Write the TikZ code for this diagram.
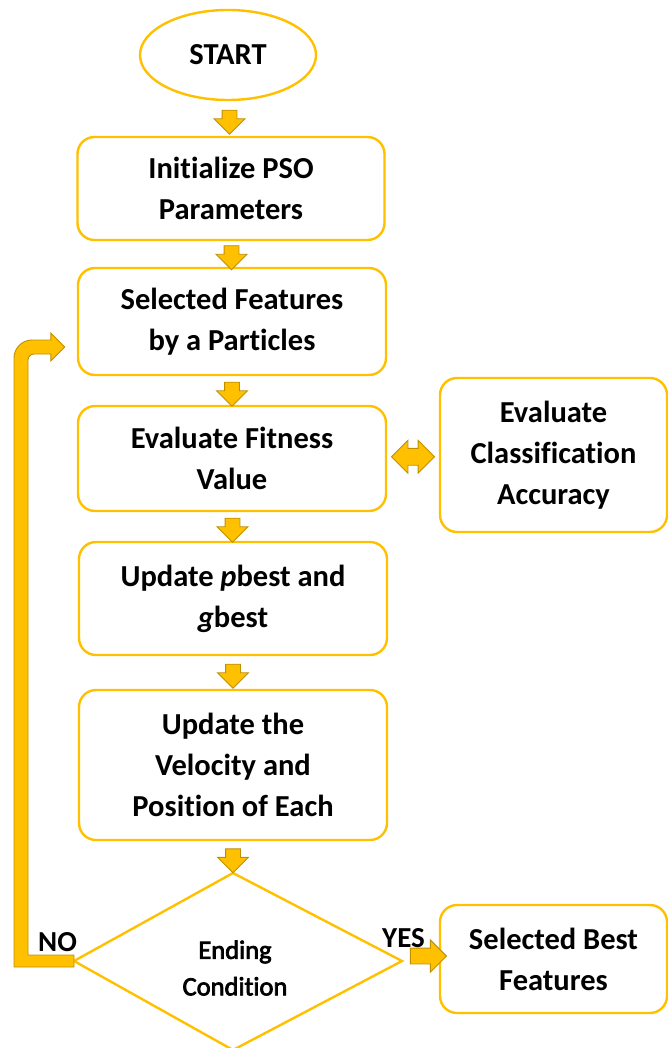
\documentclass[tikz,border=0pt]{standalone}
\usepackage{fontspec}
\setmainfont{Carlito}[Ligatures=NoCommon]
\newfontfamily\semicarlito{Carlito}[Ligatures=NoCommon, FakeBold=2.8]
\usetikzlibrary{shapes.geometric,shapes.arrows,calc}
\definecolor{gold}{HTML}{FFC000}
\definecolor{golddark}{HTML}{C08F00}
\tikzset{
  box/.style={draw=gold, line width=2.4pt, rounded corners=17pt, fill=white, align=center,
    font=\fontsize{30.5}{41}\selectfont\bfseries, inner sep=0pt},
  darr/.style={single arrow, shape border rotate=270, fill=gold, draw=golddark, line width=0.9pt,
    minimum height=24pt, inner xsep=7pt, inner ysep=7pt, single arrow head extend=8pt},
  rarr/.style={single arrow, fill=gold, draw=golddark, line width=0.9pt,
    minimum height=36pt, inner xsep=7.5pt, inner ysep=7.5pt, single arrow head extend=8pt},
  lbl/.style={font=\fontsize{29}{30}\selectfont\bfseries, inner sep=0pt}
}
\begin{document}
\begin{tikzpicture}[x=1pt,y=-1pt]
\useasboundingbox (0,0) rectangle (668,1048);
% nodes
\node[ellipse, draw=gold, line width=2.4pt, minimum width=176pt, minimum height=90pt, inner sep=0pt,
  font=\fontsize{30.5}{41}\selectfont\bfseries] (start) at (228,55) {START};
\node[box, minimum width=307pt, minimum height=103pt] (b1) at (231,188.5) {Initialize PSO\\Parameters};
\node[box, minimum width=308pt, minimum height=107pt] (b2) at (232,321.5) {Selected Features\\by a Particles};
\node[box, minimum width=308pt, minimum height=105pt] (b3) at (232,458.5) {Evaluate Fitness\\Value};
\node[box, minimum width=308pt, minimum height=113pt] (b4) at (233,598.5) {Update \textit{p}best and\\\textit{g}best};
\node[box, minimum width=308pt, minimum height=150pt] (b5) at (233,765) {Update the\\Velocity and\\Position of Each};
\node[box, minimum width=227pt, minimum height=154pt] (cls) at (553.5,455) {Evaluate\\Classification\\Accuracy};
\node[box, minimum width=227pt, minimum height=108pt] (fin) at (553.5,959) {Selected Best\\Features};
% diamond
\coordinate (dtop) at (233,873);
\coordinate (dleft) at (74,961);
\coordinate (dright) at (402,961);
\coordinate (dbot) at (233,1050);
\draw[gold, line width=2.4pt, line join=miter] (dtop) -- (dright) -- (dbot) -- (dleft) -- cycle;
\node[align=center, font=\semicarlito\fontsize{26.5}{36.5}\selectfont, inner sep=0pt] (dia) at (235,968) {Ending\\Condition};
% down arrows
\node[darr] (a1) at ($(start.south)!0.5!(b1.north)$) {};
\node[darr] (a2) at ($(b1.south)!0.5!(b2.north)$) {};
\node[darr] (a3) at ($(b2.south)!0.5!(b3.north)$) {};
\node[darr] (a4) at ($(b3.south)!0.5!(b4.north)$) {};
\node[darr] (a5) at ($(b4.south)!0.5!(b5.north)$) {};
\node[darr] (a6) at ($(b5.south)!0.5!(dtop)$) {};
% double arrow
\node[double arrow, fill=gold, draw=golddark, line width=0.9pt, minimum height=43pt,
  inner xsep=8pt, inner ysep=8pt, double arrow head extend=8pt] (dbl) at ($(b3.east)!0.5!(cls.west)$) {};
% yes arrow
\node[rarr] (yes) at ($(dright)!0.5!(fin.west)+(4,-4)$) {};
\node[lbl] (yeslbl) at (403.5,938) {YES};
% no loop
\coordinate (notip) at ($(b2.west)+(-12,25.5)$);
\filldraw[fill=gold, draw=golddark, line width=0.9pt]
  ($(dleft)+(0,-6)$) -- (28,955) [rounded corners=6pt] -- (28,354) [sharp corners]
  -- ($(notip)+(-14,7)$) -- ($(notip)+(-14,14)$) -- (notip) -- ($(notip)+(-14,-14)$)
  -- ($(notip)+(-14,-7)$) [rounded corners=18pt] -- (14,340) [sharp corners]
  -- (14,967) -- ($(dleft)+(0,6)$) -- cycle;
\node[lbl] (nolbl) at (57.5,942) {NO};
\end{tikzpicture}
\end{document}
